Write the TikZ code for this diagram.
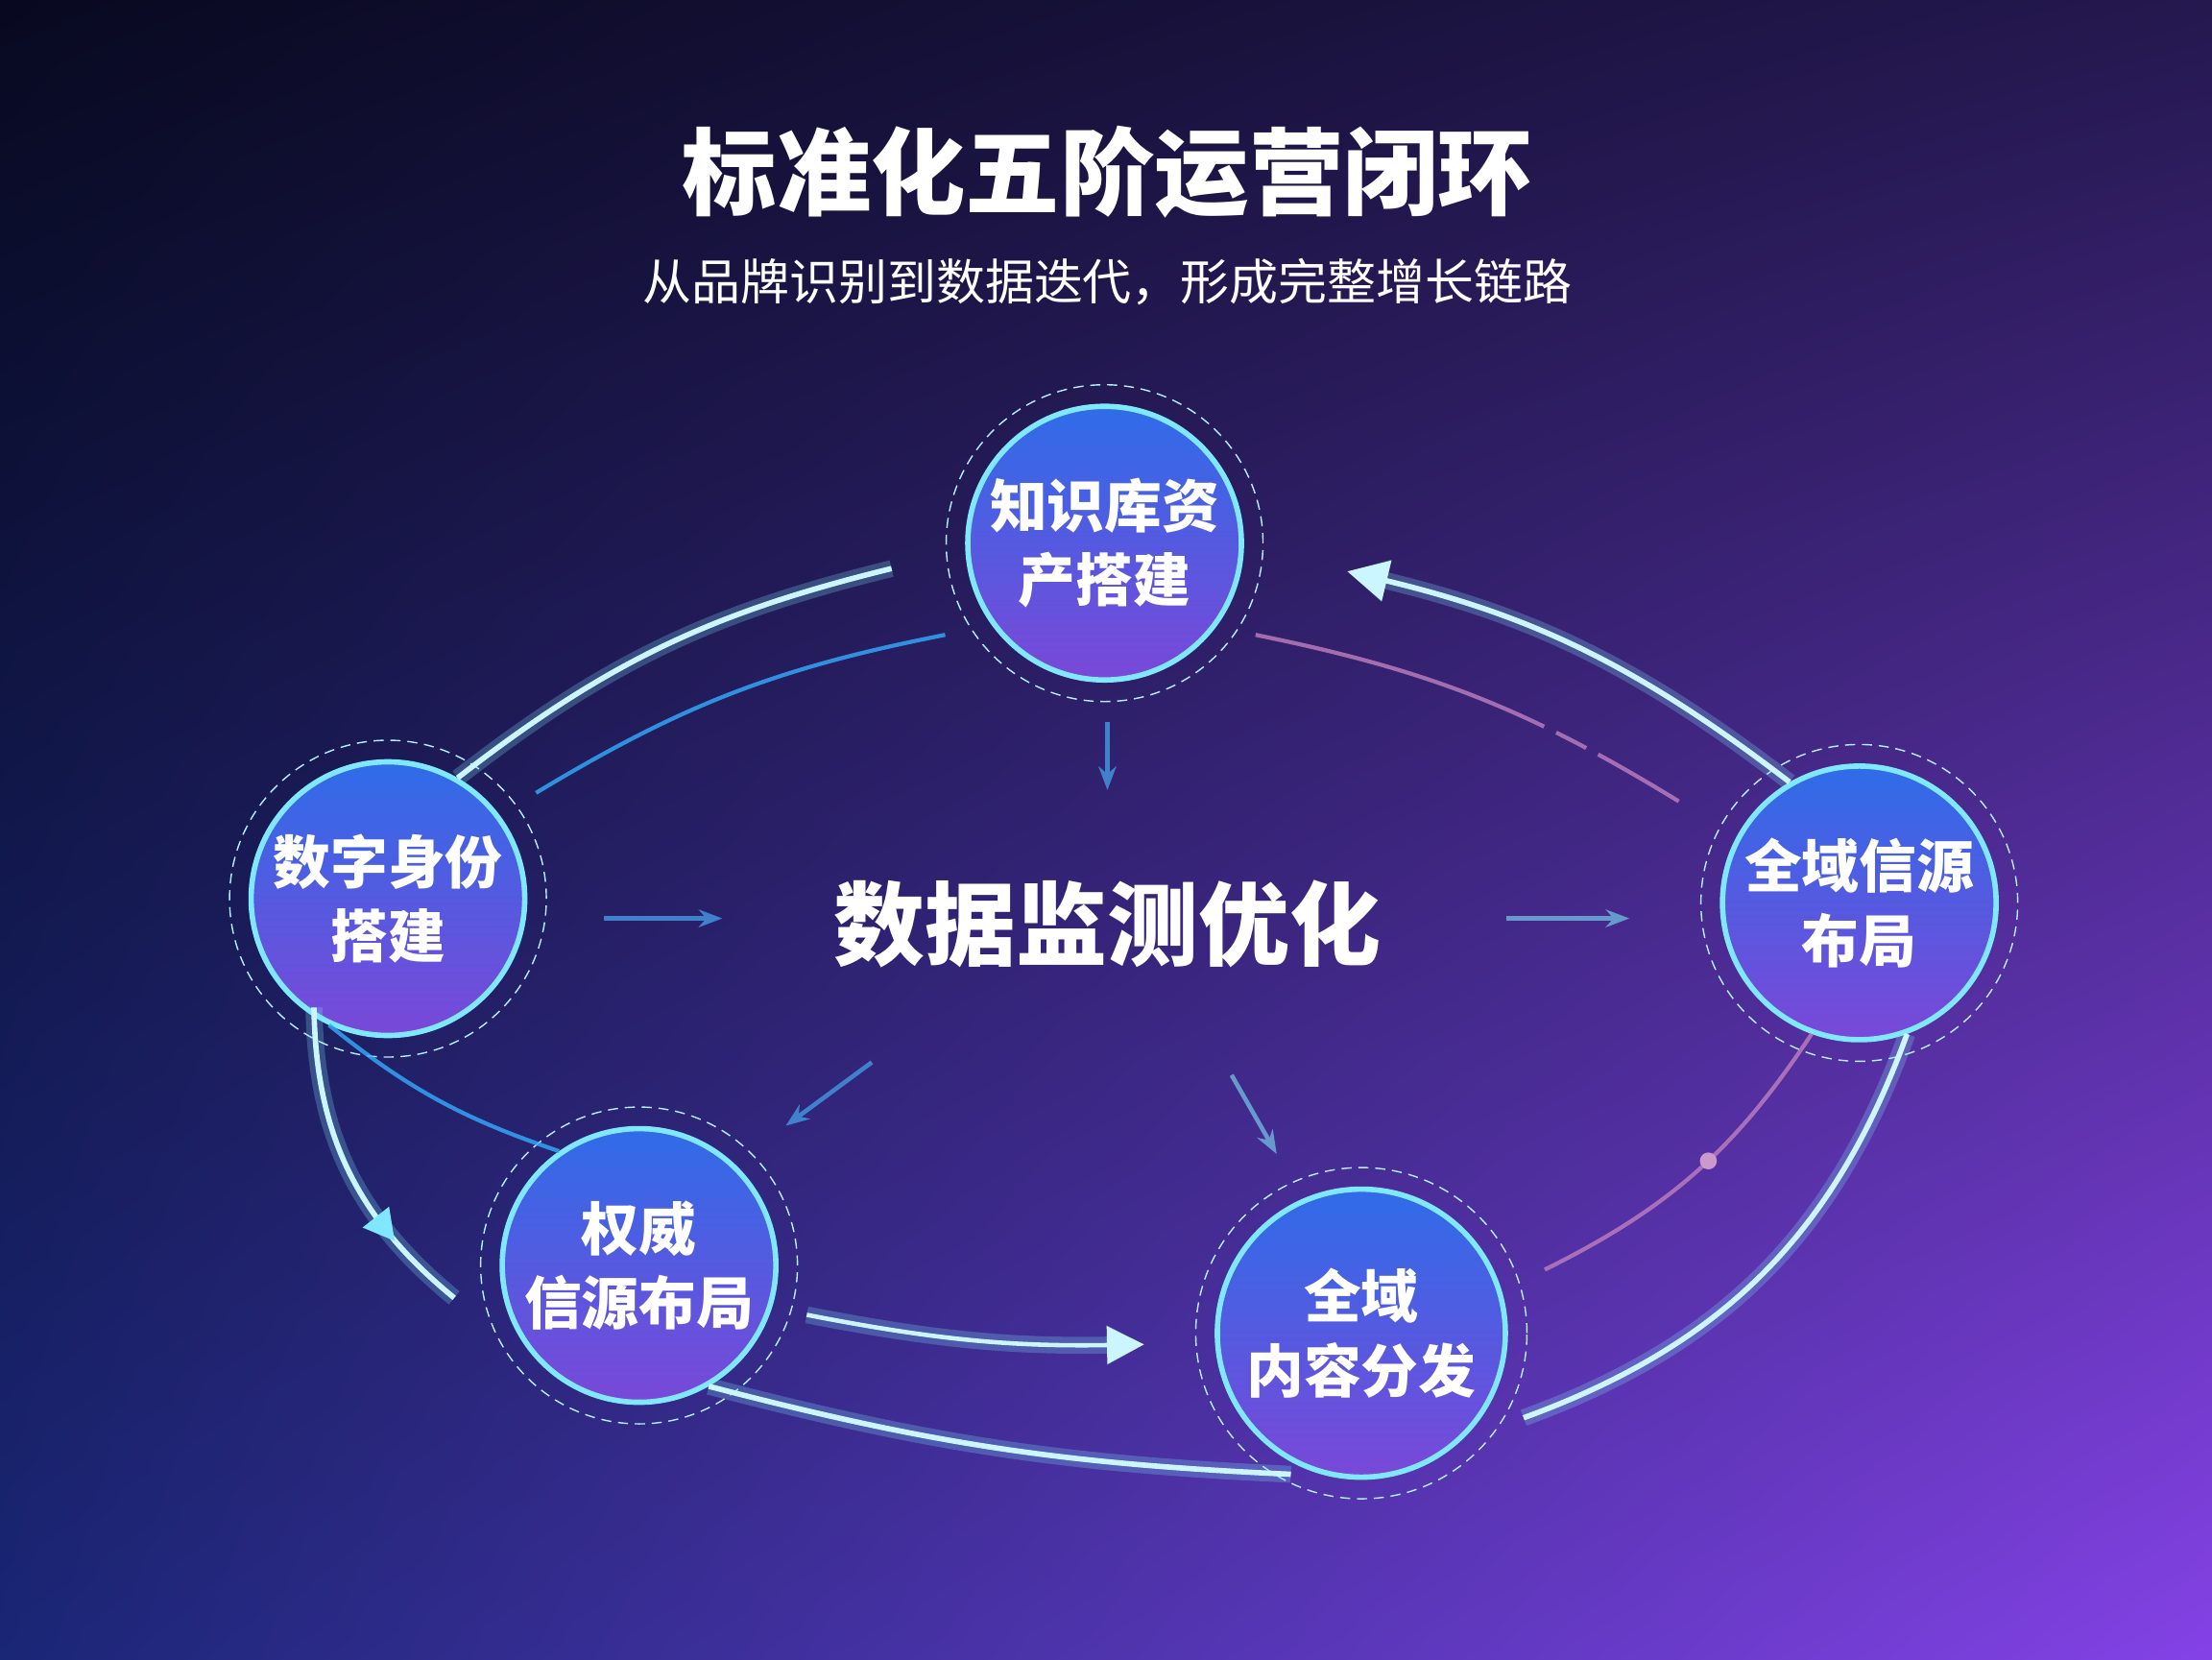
\documentclass[tikz,border=0pt]{standalone}
\usepackage{fontspec}
\setmainfont{Noto Sans CJK SC}
\usetikzlibrary{arrows.meta,calc,shadings}
\definecolor{bgtl}{HTML}{080920}
\definecolor{bgtr}{HTML}{24184F}
\definecolor{bgbl}{HTML}{1A2676}
\definecolor{bgbr}{HTML}{8442E6}
\definecolor{glowc}{HTML}{7FE8FF}
\definecolor{ballt}{HTML}{2F6CE8}
\definecolor{ballb}{HTML}{7A48D8}
\begin{document}
\begin{tikzpicture}[x=0.01469cm,y=-0.01469cm]
    \tikzstyle{stage}=[circle, draw=glowc, line width=1.6pt, top color=ballt, bottom color=ballb, minimum size=2.85cm, inner sep=0pt, align=center, text=white, font=\bfseries\fontsize{17}{22}\selectfont]
    \tikzstyle{ring}=[circle, draw=glowc!60, densely dashed, line width=0.4pt, minimum size=3.3cm]
    \tikzstyle{glow}=[line width=1.6pt, draw=glowc!40!white, preaction={draw=glowc, line width=5pt, opacity=0.25}]
    \tikzstyle{inner}=[line width=1.2pt, draw=blue!40!cyan!80!white, opacity=0.8]
    \tikzstyle{small}=[-{Stealth[length=7pt]}, line width=1.3pt, draw=cyan!50!blue!80!white]
    \shade[upper left=bgtl, upper right=bgtr, lower left=bgbl, lower right=bgbr] (0,0) rectangle (1568,1176);
    \useasboundingbox (0,0) rectangle (1568,1176);
    % title
    \node[text=white, font=\bfseries\fontsize{28}{32}\selectfont] (title) at (785,122) {标准化五阶运营闭环};
    \node[text=white, font=\fontsize{14.5}{18}\selectfont] (sub) at (785,200) {从品牌识别到数据迭代，形成完整增长链路};
    \node[text=white, font=\bfseries\fontsize{27}{32}\selectfont] (core) at (785,655) {数据监测优化};
    % stages
    \node[ring] (Kr) at (783,385) {};
    \node[ring] (Dr) at (275,637) {};
    \node[ring] (Qr) at (1318,640) {};
    \node[ring] (Ar) at (453,897) {};
    \node[ring, minimum size=3.45cm] (Cr) at (965,945) {};
    \node[stage] (K) at (783,385) {知识库资\\产搭建};
    \node[stage] (D) at (275,637) {数字身份\\搭建};
    \node[stage] (Q) at (1318,640) {全域信源\\布局};
    \node[stage] (A) at (453,897) {权威\\信源布局};
    \node[stage, minimum size=3.0cm] (C) at (965,945) {全域\\内容分发};
    % outer loop
    \coordinate (o1) at (632,403);
    \coordinate (o2) at (955,405);
    \coordinate (o3) at (322,920);
    \coordinate (o4) at (915,1045);
    \coordinate (o5) at (1080,1005);
    \draw[glow] (D.60) to[bend left=12] (o1);
    \draw[glow, -{Triangle[length=12pt,width=12pt]}] (Q.120) to[bend right=12] (o2);
    \draw[glow] ($(D.south west)!0.25!(D.south)$) to[bend right=25] node[pos=0.72, sloped, inner sep=0pt] {\tikz\fill[glowc] (0,0)--(-9pt,5pt)--(-9pt,-5pt)--cycle;} (o3);
    \draw[glow] (A.-60) to[bend right=6] (o4);
    \draw[glow] (o5) to[bend right=25] (Q.-70);
    % inner loop
    \coordinate (i1) at (380,562);
    \coordinate (i2) at (1190,568);
    \coordinate (i3) at (1095,900);
    \coordinate (i4) at (670,450);
    \coordinate (i5) at (890,450);
    \draw[inner] (i1) to[bend left=10] (i4);
    \draw[inner, draw=violet!50!white, dash pattern=on 90pt off 4pt on 10pt off 4pt] (i5) to[bend left=10] (i2);
    \draw[inner] (D.-115) to[bend right=10] (A.125);
    \draw[inner, draw=violet!50!white] (i3) to[bend right=15] coordinate[pos=0.55] (dot) (Q.-110);
    \fill[violet!40!white] (dot) circle (6);
    \draw[glow, line width=1.3pt, -{Triangle[length=11pt,width=11pt]}] ($(A.east)+(20,35)$) to[bend right=6] ($(C.west)+(-50,8)$);
    % pointers to the core
    \draw[small] (785,512) -- (785,560);
    \draw[small] (428,651) -- (512,651);
    \draw[small, draw=violet!50!cyan!80!white] (1068,651) -- (1155,651);
    \draw[small] (618,753) -- (557,798);
    \draw[small, draw=violet!50!cyan!80!white] (873,762) -- (905,818);
\end{tikzpicture}
\end{document}
